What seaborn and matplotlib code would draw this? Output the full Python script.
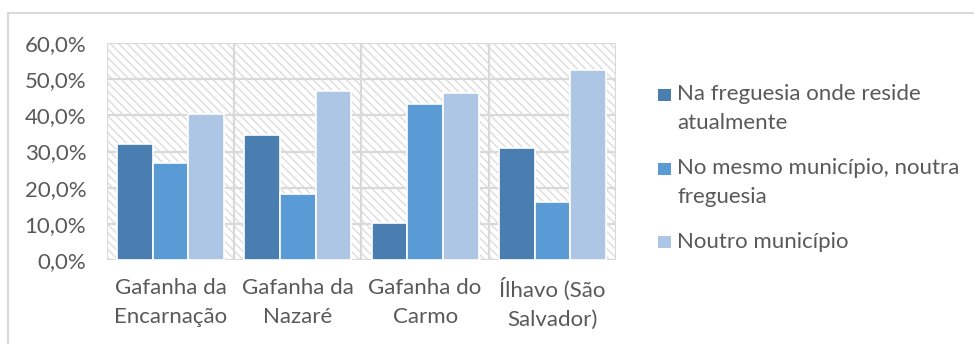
import matplotlib
matplotlib.use("Agg")
import matplotlib.pyplot as plt
from matplotlib.patches import Rectangle
from matplotlib.lines import Line2D
from matplotlib.ticker import FuncFormatter
import seaborn as sns
import pandas as pd

# Data
categories = ["Gafanha da\nEncarnação", "Gafanha da\nNazaré", "Gafanha do\nCarmo", "Ílhavo (São\nSalvador)"]
series = ["Na freguesia onde reside\natualmente", "No mesmo município, noutra\nfreguesia", "Noutro município"]
na_freguesia = [32.0, 34.7, 10.2, 31.0]
mesmo_municipio = [26.7, 18.2, 43.2, 16.1]
noutro_municipio = [40.5, 46.6, 46.3, 52.4]
colors = ["#4A7EB0", "#5B9BD5", "#ADC6E5"]

rows = []
for s, vals in zip(series, [na_freguesia, mesmo_municipio, noutro_municipio]):
    for c, v in zip(categories, vals):
        rows.append({"cat": c, "serie": s, "val": v / 100})
df = pd.DataFrame(rows)

sns.set_theme(style="white")
plt.rcParams["font.family"] = ["Lato", "DejaVu Sans"]
plt.rcParams["hatch.linewidth"] = 1.0
text_color = "#595959"
grid_color = "#D9D9D9"
fs = 16
line_sp = 1.55
line_px = 28  # distance between baselines of wrapped legend lines

W, H = 974, 344
fig = plt.figure(figsize=(W / 100, H / 100), dpi=100)
ax = fig.add_axes([107 / W, 1 - 260 / H, (616 - 107) / W, (260 - 43) / H])

# hatched plot area background
bg = Rectangle((0, 0), 1, 1, transform=ax.transAxes, facecolor="white",
               edgecolor="#DCDCDC", hatch="\\\\\\\\", linewidth=0, zorder=0)
ax.add_patch(bg)

sns.barplot(data=df, x="cat", y="val", hue="serie", palette=colors, order=categories,
            hue_order=series, width=0.84, saturation=1, edgecolor="white",
            linewidth=1.2, legend=False, ax=ax, zorder=3)

ax.set_xlim(-0.5, 3.5)
ax.set_ylim(0, 0.6)
ax.set_yticks([i / 10 for i in range(7)])
ax.yaxis.set_major_formatter(FuncFormatter(lambda v, _: f"{v*100:.1f}%".replace(".", ",")))

for y in [i / 10 for i in range(7)]:
    ax.axhline(y, color=grid_color, lw=1.6, zorder=1)
for x in [-0.5, 0.5, 1.5, 2.5, 3.5]:
    ax.axvline(x, color=grid_color, lw=1.6, zorder=1)
for sp in ax.spines.values():
    sp.set_visible(False)

ax.set_xlabel("")
ax.set_ylabel("")
ax.tick_params(axis="y", length=0, pad=15, labelsize=fs, labelcolor=text_color)
ax.tick_params(axis="x", length=0, pad=13, labelsize=fs, labelcolor=text_color)
for lbl in ax.get_xticklabels():
    lbl.set_linespacing(line_sp)

# legend: square key aligned with the first line of each (wrapped) label
first_baselines = [101, 175, 248]
for label, color, base in zip(series, colors, first_baselines):
    fig.add_artist(Rectangle((658 / W, 1 - base / H), 13 / W, 12.5 / H,
                             transform=fig.transFigure, facecolor=color, edgecolor="none"))
    last_base = base + line_px * label.count("\n")
    fig.text(677 / W, 1 - last_base / H, label, ha="left", va="baseline", fontsize=fs,
             color=text_color, linespacing=line_sp)

# outer chart border (left and top edges)
fig.add_artist(Line2D([8 / W, 8 / W], [0, 1 - 13 / H], color=grid_color, lw=1.5))
fig.add_artist(Line2D([8 / W, 1], [1 - 13 / H, 1 - 13 / H], color=grid_color, lw=1.5))

fig.savefig("out.png", dpi=100, facecolor="white")
